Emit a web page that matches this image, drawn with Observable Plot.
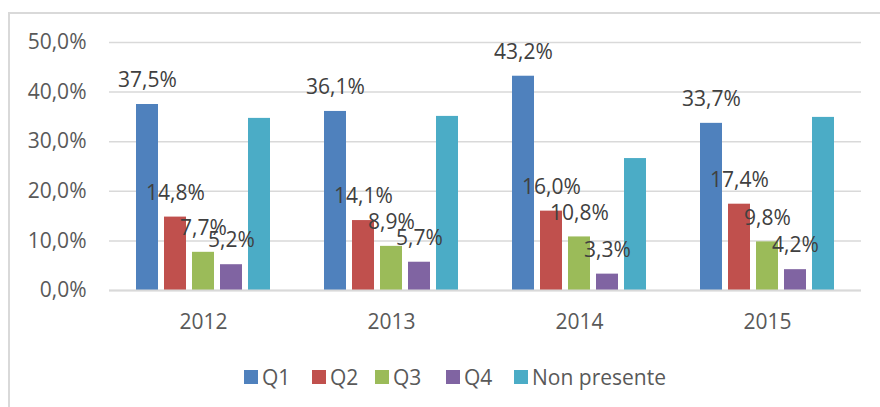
<!DOCTYPE html>
<html>
<head>
<meta charset="utf-8">
<script src="https://cdn.jsdelivr.net/npm/d3@7"></script>
<script src="https://cdn.jsdelivr.net/npm/@observablehq/plot@0.6"></script>
<style>
  html, body { margin: 0; padding: 0; background: #fff; overflow: hidden; }
  #wrap { position: relative; width: 880px; height: 407px; font-family: "Open Sans", sans-serif; }
  #frame { position: absolute; left: 8px; top: 12px; width: 960px; height: 500px; border: 2px solid #d9d9d9; box-sizing: border-box; pointer-events: none; }
  #legend { position: absolute; left: 0; top: 350px; width: 880px; height: 57px; }
  .item { position: absolute; top: 14px; display: flex; align-items: center; font-size: 21px; color: #595959; line-height: 26px; }
  .sw { width: 14px; height: 14px; margin-right: 4px; }
</style>
</head>
<body>
<div id="wrap">
  <div id="chart"></div>
  <div id="legend"></div>
  <div id="frame"></div>
</div>
<script>
const years = ["2012", "2013", "2014", "2015"];
const series = ["Q1", "Q2", "Q3", "Q4", "Non presente"];
const q1 = [37.5, 36.1, 43.2, 33.7];
const q2 = [14.8, 14.1, 16.0, 17.4];
const q3 = [7.7, 8.9, 10.8, 9.8];
const q4 = [5.2, 5.7, 3.3, 4.2];
const nonPresente = [34.7, 35.1, 26.6, 34.9];
const yTicks = [0, 10, 20, 30, 40, 50];
const colors = ["#4f81bd", "#c0504d", "#9bbb59", "#8064a2", "#4bacc6"];
const labeledSeries = ["Q1", "Q2", "Q3", "Q4"];

const valuesBySeries = [q1, q2, q3, q4, nonPresente];
const data = [];
years.forEach((year, i) => {
  series.forEach((s, j) => data.push({ year, series: s, value: valuesBySeries[j][i] }));
});
const fmt = v => v.toFixed(1).replace(".", ",") + "%";

const chart = Plot.plot({
  width: 880,
  height: 350,
  marginLeft: 108,
  marginRight: 18,
  marginTop: 42,
  marginBottom: 60,
  style: { fontFamily: "Open Sans, sans-serif", background: "transparent" },
  fx: { domain: years, padding: 0, label: null },
  x: { domain: series, paddingInner: 0.207, paddingOuter: 0.853, axis: null },
  y: { domain: [0, 50], label: null },
  color: { domain: series, range: colors },
  marks: [
    Plot.gridY(yTicks, { stroke: "#d9d9d9", strokeOpacity: 1, strokeWidth: 1.5 }),
    Plot.axisY(yTicks, { tickSize: 0, tickPadding: 23, fontSize: 21, fill: "#595959", tickFormat: fmt, label: null }),
    Plot.axisFx({ anchor: "bottom", tickSize: 0, tickPadding: 24, fontSize: 21, fill: "#595959", label: null }),
    Plot.barY(data, { fx: "year", x: "series", y: "value", fill: "series" }),
    Plot.ruleY([0], { stroke: "#d9d9d9", strokeWidth: 2 }),
    Plot.text(data.filter(d => labeledSeries.includes(d.series)), {
      fx: "year", x: "series", y: "value", text: d => fmt(d.value),
      dy: -24, fontSize: 21, fill: "#404040"
    })
  ]
});
document.getElementById("chart").appendChild(chart);

const legendLefts = [244, 312, 375, 446, 514];
const legend = document.getElementById("legend");
series.forEach((s, i) => {
  const it = document.createElement("div");
  it.className = "item";
  it.style.left = legendLefts[i] + "px";
  it.innerHTML = `<div class="sw" style="background:${colors[i]}"></div><span>${s}</span>`;
  legend.appendChild(it);
});
</script>
</body>
</html>
